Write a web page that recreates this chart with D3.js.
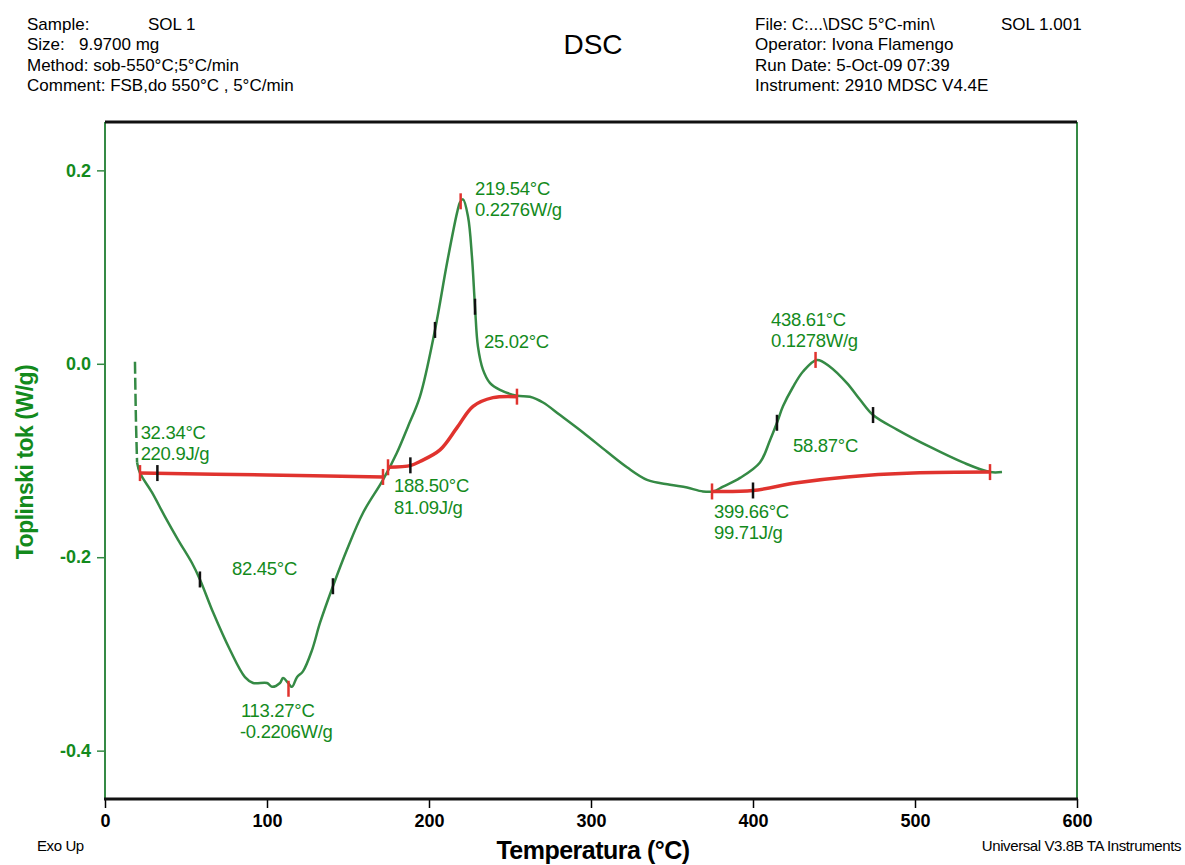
<!DOCTYPE html>
<meta charset="utf-8">
<head>
    <title>DSC SOL 1</title>
    <script type="text/javascript" src="https://cdn.jsdelivr.net/npm/d3@7"></script>
    <style>
        body { margin: 0; padding: 0; background: white; }
        text { font-family: "Liberation Sans", Arial, sans-serif; }
    </style>
</head>
<body>
<script>
    const width = 1185, height = 865;
    const margin = ({top: 122, right: 108, bottom: 66, left: 105});

    // DSC signal
    const tempC = [18.5, 19.1, 19.8, 21.6, 29.0, 37.0, 45.1, 53.7, 58.6, 66.7, 77.2, 86.4, 91.4, 100.0,
        103.1, 108.0, 109.9, 113.0, 115.4, 118.5, 122.2, 127.8, 132.7, 140.7, 149.4, 159.3, 171.6, 180.2,
        187.0, 194.4, 203.7, 211.1, 217.3, 219.1, 221.0, 224.1, 226.5, 228.4, 230.2, 233.3, 237.7, 243.8,
        254.3, 262.3, 270.4, 280.9, 295.1, 309.9, 322.2, 334.6, 348.8, 359.3, 369.1, 375.3, 381.5, 392.0,
        404.3, 410.5, 414.8, 418.5, 424.7, 430.9, 439.5, 447.5, 458.0, 466.0, 474.1, 488.9, 509.3, 529.6,
        546.3, 553.7];
    const heatFlow = [0.002, -0.058, -0.102, -0.113, -0.133, -0.158, -0.182, -0.206, -0.223, -0.257, -0.296,
        -0.324, -0.330, -0.330, -0.334, -0.330, -0.325, -0.330, -0.334, -0.324, -0.318, -0.296, -0.268,
        -0.230, -0.192, -0.154, -0.120, -0.092, -0.065, -0.034, 0.035, 0.104, 0.156, 0.167, 0.170, 0.152,
        0.111, 0.059, 0.018, -0.006, -0.020, -0.027, -0.033, -0.034, -0.040, -0.053, -0.071, -0.091,
        -0.107, -0.120, -0.125, -0.128, -0.132, -0.132, -0.127, -0.118, -0.102, -0.079, -0.061, -0.044,
        -0.024, -0.008, 0.004, -0.003, -0.020, -0.037, -0.053, -0.068, -0.086, -0.102, -0.112, -0.112];
    const startupCount = 3; // first points drawn dashed

    // integration baselines
    const baseline1T = [21.6, 100, 171.6];
    const baseline1W = [-0.113, -0.115, -0.117];
    const baseline2T = [174.7, 188.9, 194.4, 206.8, 217.3, 227.2, 239.5, 254.3];
    const baseline2W = [-0.107, -0.105, -0.101, -0.089, -0.066, -0.044, -0.035, -0.034];
    const baseline3T = [374.7, 400.0, 427.2, 458.0, 498.8, 546.3];
    const baseline3W = [-0.132, -0.131, -0.123, -0.117, -0.113, -0.112];

    // markers
    const redMarkT = [21.6, 171.6, 174.7, 254.3, 374.7, 546.3, 113.27, 219.54, 438.61];
    const redMarkW = [-0.113, -0.117, -0.107, -0.034, -0.132, -0.112, -0.336, 0.168, 0.004];
    const blackMarkT = [32.34, 58.6, 140.7, 188.5, 203.7, 228.4, 400.0, 414.8, 474.1];
    const blackMarkW = [-0.113, -0.223, -0.230, -0.105, 0.035, 0.059, -0.131, -0.061, -0.053];

    // annotation labels (anchor temperature / W)
    const labelText = ["32.34°C", "220.9J/g", "82.45°C", "113.27°C", "-0.2206W/g", "188.50°C", "81.09J/g",
        "219.54°C", "0.2276W/g", "25.02°C", "438.61°C", "0.1278W/g", "58.87°C", "399.66°C", "99.71J/g"];
    const labelT = [22.0, 22.0, 78.4, 83.9, 83.3, 178.4, 178.4, 228.4, 228.4, 233.9, 411.1, 411.1, 424.7, 375.9, 375.9];
    const labelW = [-0.0775, -0.0992, -0.218, -0.365, -0.387, -0.133, -0.155, 0.1745, 0.1525, 0.016, 0.0395,
        0.0175, -0.091, -0.159, -0.181];

    const headerLeft = ["Sample:", "Size:   9.9700 mg", "Method: sob-550°C;5°C/min", "Comment: FSB,do 550°C , 5°C/min"];
    const headerRight = ["File: C:...\\DSC 5°C-min\\", "Operator: Ivona Flamengo", "Run Date: 5-Oct-09 07:39", "Instrument: 2910 MDSC V4.4E"];

    const green = "#358a45", textGreen = "#138a1c", red = "#e0332e";

    const svg = d3.select("body").append("svg")
        .attr("width", width)
        .attr("height", height);

    const x = d3.scaleLinear().domain([0, 600]).range([margin.left, width - margin.right]);
    const y = d3.scaleLinear().domain([-0.45, 0.25]).range([height - margin.bottom, margin.top]);

    // header
    const hl = svg.append("g").attr("font-size", 17).attr("fill", "black");
    headerLeft.forEach((t, i) => {
        hl.append("text").attr("x", 27).attr("y", 30 + i * 20.3).attr("xml:space", "preserve").text(t);
    });
    hl.append("text").attr("x", 148).attr("y", 30).text("SOL 1");
    headerRight.forEach((t, i) => {
        hl.append("text").attr("x", 755).attr("y", 30 + i * 20.3).text(t);
    });
    hl.append("text").attr("x", 1001).attr("y", 30).text("SOL 1.001");
    svg.append("text").attr("x", 593).attr("y", 54).attr("text-anchor", "middle")
        .attr("font-size", 28).text("DSC");

    // axes
    const fmtY = d => d3.format(".1f")(d).replace("−", "-");
    const xAxisMinor = d3.axisBottom(x).tickValues(d3.range(0, 601, 25)).tickSize(6).tickFormat("");
    const xAxisMajor = d3.axisBottom(x).tickValues(d3.range(0, 601, 100)).tickSize(9).tickPadding(6);
    const yAxisMinor = d3.axisLeft(y).tickValues(d3.range(-0.45, 0.251, 0.05)).tickSize(5).tickFormat("");
    const yAxisMajor = d3.axisLeft(y).tickValues([-0.4, -0.2, 0, 0.2]).tickSize(8).tickPadding(6)
        .tickFormat(fmtY);

    const gx = svg.append("g").attr("transform", `translate(0,${height - margin.bottom})`);
    gx.call(xAxisMinor);
    gx.call(xAxisMajor);
    gx.selectAll("line").attr("stroke", "black").attr("stroke-width", 1.5);
    gx.selectAll(".domain").remove();
    gx.selectAll("text").attr("font-size", 18).attr("font-weight", "bold").attr("fill", "black");

    const gy = svg.append("g").attr("transform", `translate(${margin.left},0)`);
    gy.call(yAxisMinor);
    gy.call(yAxisMajor);
    gy.selectAll("line").attr("stroke", green).attr("stroke-width", 1.5);
    gy.selectAll(".domain").remove();
    gy.selectAll("text").attr("font-size", 18).attr("font-weight", "bold").attr("fill", textGreen);

    // frame
    const [x0, x1] = x.range(), [y0, y1] = [y.range()[1], y.range()[0]];
    svg.append("line").attr("x1", x0).attr("x2", x0).attr("y1", y0).attr("y2", y1)
        .attr("stroke", green).attr("stroke-width", 2);
    svg.append("line").attr("x1", x1).attr("x2", x1).attr("y1", y0).attr("y2", y1)
        .attr("stroke", green).attr("stroke-width", 2);
    svg.append("line").attr("x1", x0).attr("x2", x1).attr("y1", y0).attr("y2", y0)
        .attr("stroke", "#111").attr("stroke-width", 3);
    svg.append("line").attr("x1", x0 - 1).attr("x2", x1 + 1).attr("y1", y1).attr("y2", y1)
        .attr("stroke", "#111").attr("stroke-width", 3);

    // axis titles
    svg.append("text").attr("x", 593).attr("y", 859).attr("text-anchor", "middle")
        .attr("font-size", 25).attr("font-weight", "bold").attr("letter-spacing", -0.5)
        .text("Temperatura (°C)");
    svg.append("text").attr("transform", `translate(33,462) rotate(-90)`).attr("text-anchor", "middle")
        .attr("font-size", 23).attr("font-weight", "bold").attr("fill", textGreen).attr("letter-spacing", -0.5)
        .text("Toplinski tok (W/g)");
    svg.append("text").attr("x", 37).attr("y", 851).attr("font-size", 15).attr("letter-spacing", -0.4)
        .text("Exo Up");
    svg.append("text").attr("x", 1181).attr("y", 851).attr("font-size", 15).attr("text-anchor", "end")
        .attr("letter-spacing", -0.4)
        .text("Universal V3.8B TA Instruments");

    // curves
    const line = d3.line().x(d => x(d[0])).y(d => y(d[1])).curve(d3.curveCatmullRom.alpha(0.5));
    const signal = tempC.map((t, i) => [t, heatFlow[i]]);

    svg.append("path").datum(signal.slice(0, startupCount))
        .attr("d", line).attr("fill", "none").attr("stroke", green)
        .attr("stroke-width", 2.5).attr("stroke-dasharray", "12,4");
    svg.append("path").datum(signal.slice(startupCount - 1))
        .attr("d", line).attr("fill", "none").attr("stroke", green).attr("stroke-width", 2.5);

    [[baseline1T, baseline1W], [baseline2T, baseline2W], [baseline3T, baseline3W]].forEach(([ts, ws]) => {
        svg.append("path").datum(ts.map((t, i) => [t, ws[i]]))
            .attr("d", line).attr("fill", "none").attr("stroke", red).attr("stroke-width", 3.5);
    });

    svg.append("g").selectAll("line").data(redMarkT).enter().append("line")
        .attr("x1", d => x(d)).attr("x2", d => x(d))
        .attr("y1", (d, i) => y(redMarkW[i]) - 8).attr("y2", (d, i) => y(redMarkW[i]) + 8)
        .attr("stroke", red).attr("stroke-width", 2.5);
    svg.append("g").selectAll("line").data(blackMarkT).enter().append("line")
        .attr("x1", d => x(d)).attr("x2", d => x(d))
        .attr("y1", (d, i) => y(blackMarkW[i]) - 8).attr("y2", (d, i) => y(blackMarkW[i]) + 8)
        .attr("stroke", "#111").attr("stroke-width", 2.5);

    // annotations
    svg.append("g").selectAll("text").data(labelText).enter().append("text")
        .attr("x", (d, i) => x(labelT[i])).attr("y", (d, i) => y(labelW[i]))
        .attr("font-size", 18.5).attr("letter-spacing", -0.3).attr("fill", textGreen)
        .text(d => d);
</script>
</body>
</html>
